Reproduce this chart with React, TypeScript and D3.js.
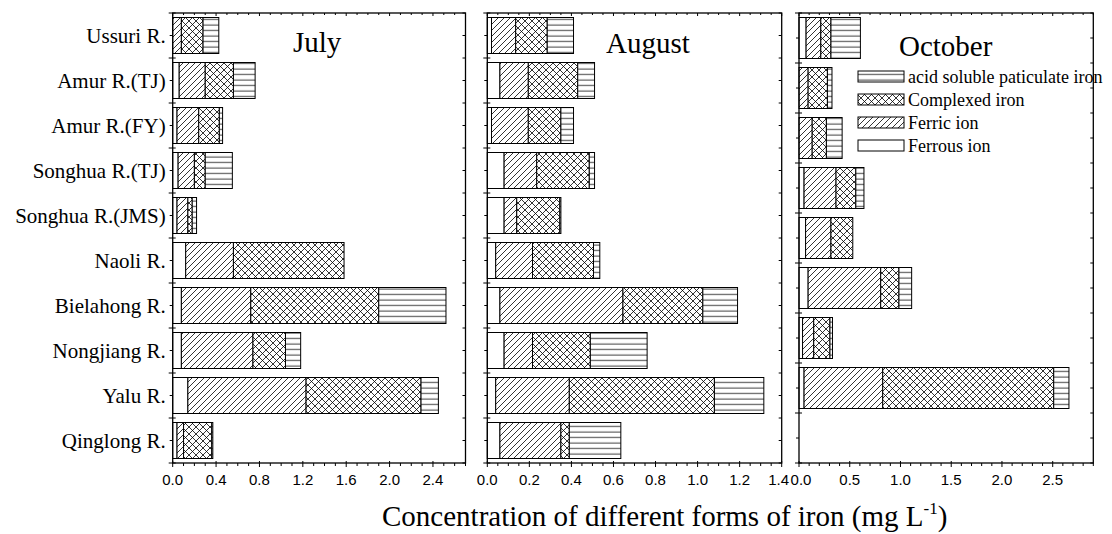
import * as d3 from 'd3';

// rivers, top to bottom
const rivers = [
  'Ussuri R.', 'Amur R.(TJ)', 'Amur R.(FY)', 'Songhua R.(TJ)', 'Songhua R.(JMS)',
  'Naoli R.', 'Bielahong R.', 'Nongjiang R.', 'Yalu R.', 'Qinglong R.',
];
// October has one river fewer and an empty last row
const octoberRivers = [
  'Ussuri R.', 'Amur R.(TJ)', 'Amur R.(FY)', 'Songhua R.(TJ)', 'Songhua R.(JMS)',
  'Bielahong R.', 'Nongjiang R.', 'Yalu R.', 'Qinglong R.',
];

const keys = ['ferrous', 'ferric', 'complexed', 'acid'];

// mg/L
const julyFerrous = [0.0, 0.06, 0.04, 0.05, 0.04, 0.12, 0.08, 0.08, 0.14, 0.04];
const julyFerric = [0.08, 0.24, 0.2, 0.15, 0.1, 0.44, 0.64, 0.66, 1.09, 0.06];
const julyComplexed = [0.2, 0.26, 0.19, 0.1, 0.04, 1.02, 1.18, 0.3, 1.06, 0.26];
const julyAcid = [0.145, 0.2, 0.03, 0.25, 0.04, 0.0, 0.62, 0.14, 0.16, 0.01];

const augFerrous = [0.02, 0.06, 0.02, 0.08, 0.08, 0.04, 0.06, 0.08, 0.04, 0.06];
const augFerric = [0.115, 0.135, 0.175, 0.155, 0.06, 0.175, 0.585, 0.135, 0.35, 0.29];
const augComplexed = [0.15, 0.235, 0.155, 0.25, 0.205, 0.29, 0.38, 0.275, 0.69, 0.04];
const augAcid = [0.125, 0.08, 0.06, 0.025, 0.005, 0.03, 0.165, 0.27, 0.235, 0.245];

const octFerrous = [0.07, 0.0, 0.0, 0.05, 0.065, 0.09, 0.035, 0.05, null];
const octFerric = [0.145, 0.09, 0.13, 0.315, 0.25, 0.715, 0.11, 0.775, null];
const octComplexed = [0.1, 0.19, 0.14, 0.195, 0.215, 0.18, 0.16, 1.685, null];
const octAcid = [0.29, 0.045, 0.155, 0.08, 0.0, 0.125, 0.025, 0.15, null];

const legendLabels = ['acid soluble paticulate iron', 'Complexed iron', 'Ferric ion', 'Ferrous ion'];
const legendKeys = ['acid', 'complexed', 'ferric', 'ferrous'];

const fills = {
  ferrous: 'white',
  ferric: 'url(#diag)',
  complexed: 'url(#cross)',
  acid: 'url(#horiz)',
};

const serif = '"Liberation Serif", "Times New Roman", serif';
const sans = '"Liberation Sans", Arial, sans-serif';

const top = 13;
const bottom = 463;

function buildRows(cats, series) {
  return cats.map((c, i) => {
    const row = { river: c, empty: series[0][i] == null };
    keys.forEach((k, j) => (row[k] = series[j][i] ?? 0));
    return row;
  });
}

const panels = [
  {
    title: 'July', titleX: 293, titleY: 52,
    cats: rivers,
    rows: buildRows(rivers, [julyFerrous, julyFerric, julyComplexed, julyAcid]),
    left: 172.7, right: 465.5, max: 2.7, major: 0.4, minor: 0.1,
    padIn: 0.2, labels: true, firstShift: 0, lastShift: 0,
  },
  {
    title: 'August', titleX: 606, titleY: 53,
    cats: rivers,
    rows: buildRows(rivers, [augFerrous, augFerric, augComplexed, augAcid]),
    left: 487.3, right: 781.7, max: 1.4, major: 0.2, minor: 0.05,
    padIn: 0.2, labels: false, firstShift: 0, lastShift: -3,
  },
  {
    title: 'October', titleX: 899, titleY: 56,
    cats: octoberRivers,
    rows: buildRows(octoberRivers, [octFerrous, octFerric, octComplexed, octAcid]),
    left: 799, right: 1093.3, max: 2.9, major: 0.5, minor: 0.1,
    padIn: 0.18, labels: false, legend: true, firstShift: 2, lastShift: 0,
  },
];

function Panel({ p }) {
  const x = d3.scaleLinear().domain([0, p.max]).range([p.left, p.right]);
  const y = d3.scaleBand().domain(p.cats).range([top, bottom]).paddingInner(p.padIn).paddingOuter(p.padIn / 2);
  const step = y.step();
  const stacked = d3.stack().keys(keys)(p.rows);

  const n = Math.round(p.max / p.minor);
  const allTicks = d3.range(0, n + 1).map((i) => +(i * p.minor).toFixed(3));
  const isMajor = (v) => Math.abs(v / p.major - Math.round(v / p.major)) < 1e-6;
  const majors = allTicks.filter(isMajor);
  const minors = allTicks.filter((v) => !isMajor(v));
  const bounds = d3.range(0, p.cats.length + 1).map((i) => top + i * step);
  const centers = p.cats.map((c) => y(c) + y.bandwidth() / 2);

  return (
    <g>
      {stacked.map((s) => (
        <g key={s.key}>
          {s.map((d, i) =>
            d.data.empty || d[1] - d[0] <= 0 ? null : (
              <rect
                key={i}
                x={x(d[0])}
                y={y(d.data.river)}
                width={x(d[1]) - x(d[0])}
                height={y.bandwidth()}
                fill={fills[s.key]}
                stroke="black"
                strokeWidth={1}
              />
            )
          )}
        </g>
      ))}
      <rect x={p.left} y={top} width={p.right - p.left} height={bottom - top} fill="none" stroke="black" strokeWidth={1.3} />
      {/* bottom + top ticks */}
      {majors.map((v, i) => (
        <g key={'M' + v}>
          <line x1={x(v)} x2={x(v)} y1={bottom - 2} y2={bottom + 4} stroke="black" />
          <line x1={x(v)} x2={x(v)} y1={top} y2={top + 3} stroke="black" />
          <text
            x={x(v) + (i === 0 ? p.firstShift : i === majors.length - 1 ? p.lastShift : 0)}
            y={485}
            textAnchor="middle"
            fontFamily={sans}
            fontSize={15}
          >
            {d3.format('.1f')(v)}
          </text>
        </g>
      ))}
      {minors.map((v) => (
        <g key={'m' + v}>
          <line x1={x(v)} x2={x(v)} y1={bottom} y2={bottom + 3} stroke="black" />
          <line x1={x(v)} x2={x(v)} y1={top} y2={top + 2} stroke="black" />
        </g>
      ))}
      {/* left + right ticks */}
      {bounds.map((b, i) => (
        <g key={'b' + i}>
          <line x1={p.left - 4} x2={p.left + 3} y1={b} y2={b} stroke="black" />
          <line x1={p.right - 3} x2={p.right} y1={b} y2={b} stroke="black" />
        </g>
      ))}
      {centers.map((c, i) => (
        <g key={'c' + i}>
          <line x1={p.left - 3} x2={p.left} y1={c} y2={c} stroke="black" />
          <line x1={p.right - 3} x2={p.right} y1={c} y2={c} stroke="black" />
        </g>
      ))}
      {p.labels &&
        p.cats.map((c, i) => (
          <text key={c} x={p.left - 7} y={centers[i] + 7} textAnchor="end" fontFamily={serif} fontSize={21}>
            {c}
          </text>
        ))}
      <text x={p.titleX} y={p.titleY} fontFamily={serif} fontSize={29}>
        {p.title}
      </text>
      {p.legend &&
        legendKeys.map((k, i) => {
          const base = 83 + i * 23;
          return (
            <g key={k}>
              <rect x={858} y={base - 12} width={46} height={11} fill={fills[k]} stroke="black" strokeWidth={1} />
              <text x={908} y={base} fontFamily={serif} fontSize={18}>
                {legendLabels[i]}
              </text>
            </g>
          );
        })}
    </g>
  );
}

export default function App() {
  return (
    <svg
      width={1112}
      height={534}
      style={{ position: 'absolute', left: 0, top: 0, background: 'white' }}
    >
      <defs>
        <pattern id="diag" width={6} height={6} patternUnits="userSpaceOnUse">
          <rect width={6} height={6} fill="white" />
          <path d="M0,6 L6,0 M-1,1 L1,-1 M5,7 L7,5" stroke="black" strokeWidth={0.8} />
        </pattern>
        <pattern id="cross" width={7} height={7} patternUnits="userSpaceOnUse">
          <rect width={7} height={7} fill="white" />
          <path d="M0,7 L7,0 M0,0 L7,7" stroke="black" strokeWidth={0.8} />
        </pattern>
        <pattern id="horiz" width={6} height={5.5} patternUnits="userSpaceOnUse">
          <rect width={6} height={5.5} fill="white" />
          <path d="M0,3 L6,3" stroke="black" strokeWidth={0.8} />
        </pattern>
      </defs>
      {panels.map((p) => (
        <Panel key={p.title} p={p} />
      ))}
      <text x={382} y={526} fontFamily={serif} fontSize={29}>
        Concentration of different forms of iron (mg L
        <tspan fontSize={17} dy={-12}>-1</tspan>
        <tspan dy={12}>)</tspan>
      </text>
    </svg>
  );
}
